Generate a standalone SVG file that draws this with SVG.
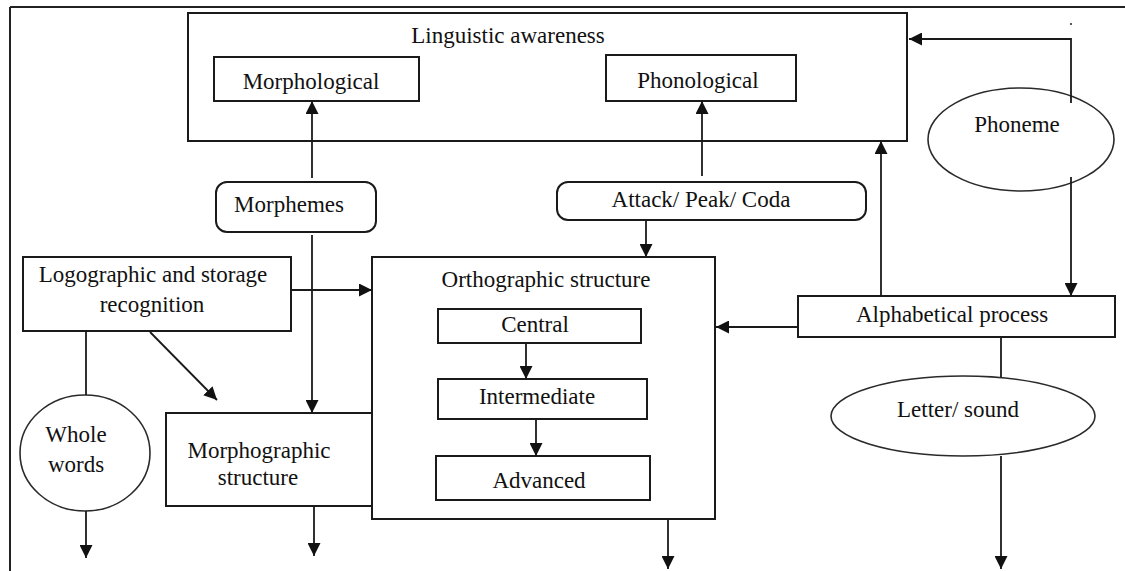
<svg xmlns="http://www.w3.org/2000/svg" width="1125" height="571" viewBox="0 0 1125 571">
<style>
  .box{fill:#fff;stroke:#1a1a1a;stroke-width:2}
  .ell{fill:#fff;stroke:#2a2a2a;stroke-width:1.6}
  .c{fill:none;stroke:#1a1a1a;stroke-width:1.8}
  .a{marker-end:url(#ah)}
  text{font-family:"Liberation Serif","Times New Roman",serif;font-size:23px;fill:#111;text-anchor:middle}
</style>
<defs>
  <marker id="ah" markerUnits="userSpaceOnUse" markerWidth="14" markerHeight="13" refX="13" refY="6.5" orient="auto">
    <path d="M0,0 L13,6.5 L0,13 z" fill="#111"/>
  </marker>
</defs>
<rect width="1125" height="571" fill="#fff"/>
<g id="frame">
  <path d="M10,7 L1125,7 M10,7 L10,571" fill="none" stroke="#222" stroke-width="2"/>
  <circle cx="1071" cy="24" r="1.1" fill="#333"/>
</g>
<g id="linguistic-awareness">
  <rect class="box" x="188" y="13" width="719" height="128"/>
  <text x="508" y="43">Linguistic awareness</text>
</g>
<g id="morphological">
  <rect class="box" x="214" y="57" width="205" height="44"/>
  <text x="311" y="89">Morphological</text>
</g>
<g id="phonological">
  <rect class="box" x="606" y="55" width="190" height="46"/>
  <text x="698" y="88">Phonological</text>
</g>
<g id="morphemes">
  <rect class="box" x="216" y="182" width="160" height="50" rx="11" stroke-width="1.6"/>
  <text x="289" y="212">Morphemes</text>
</g>
<g id="attack-peak-coda">
  <rect class="box" x="557" y="182" width="309" height="38" rx="11" stroke-width="1.6"/>
  <text x="701" y="207">Attack/ Peak/ Coda</text>
</g>
<g id="phoneme">
  <ellipse class="ell" cx="1021" cy="139.5" rx="93" ry="51.5"/>
  <text x="1017" y="132">Phoneme</text>
</g>
<g id="logographic">
  <rect class="box" x="23" y="257" width="268" height="74"/>
  <text x="153" y="282">Logographic and storage</text>
  <text x="152" y="312">recognition</text>
</g>
<g id="morphographic">
  <rect class="box" x="166" y="413" width="206" height="93"/>
  <text x="259" y="458">Morphographic</text>
  <text x="258" y="485">structure</text>
</g>
<g id="orthographic">
  <rect class="box" x="372" y="257" width="343" height="262"/>
  <text x="546" y="287">Orthographic structure</text>
</g>
<g id="central">
  <rect class="box" x="438" y="309" width="203" height="34"/>
  <text x="535" y="332">Central</text>
</g>
<g id="intermediate">
  <rect class="box" x="438" y="379" width="209" height="40"/>
  <text x="537" y="404">Intermediate</text>
</g>
<g id="advanced">
  <rect class="box" x="436" y="456" width="214" height="44"/>
  <text x="539" y="488">Advanced</text>
</g>
<g id="alphabetical">
  <rect class="box" x="798" y="296" width="317" height="41"/>
  <text x="952" y="322">Alphabetical process</text>
</g>
<g id="whole-words">
  <ellipse class="ell" cx="85" cy="453" rx="65" ry="58"/>
  <text x="76" y="442">Whole</text>
  <text x="76" y="472">words</text>
</g>
<g id="letter-sound">
  <ellipse class="ell" cx="963" cy="416" rx="132" ry="40"/>
  <text x="958" y="417">Letter/ sound</text>
</g>
<g id="connectors">
  <path class="c a" d="M312,178 L312,101"/>
  <path class="c a" d="M312,235 L312,413"/>
  <path class="c a" d="M702,176 L702,101"/>
  <path class="c a" d="M646,220 L646,257"/>
  <path class="c a" d="M881,296 L881,141"/>
  <path class="c a" d="M1071,103 L1071,39 L909,39"/>
  <path class="c a" d="M1071,177 L1071,296"/>
  <path class="c a" d="M798,327 L716,327"/>
  <path class="c" d="M1001,337 L1001,377"/>
  <path class="c a" d="M1001,456 L1001,569"/>
  <path class="c a" d="M668,519 L668,569"/>
  <path class="c a" d="M314,506 L314,556"/>
  <path class="c a" d="M86,511 L86,558"/>
  <path class="c" d="M86,331 L86,395"/>
  <path class="c a" d="M150,332 L217,400"/>
  <path class="c a" d="M291,290 L372,290"/>
  <path class="c a" d="M526,343 L526,379"/>
  <path class="c a" d="M536,419 L536,456"/>
</g>
</svg>
